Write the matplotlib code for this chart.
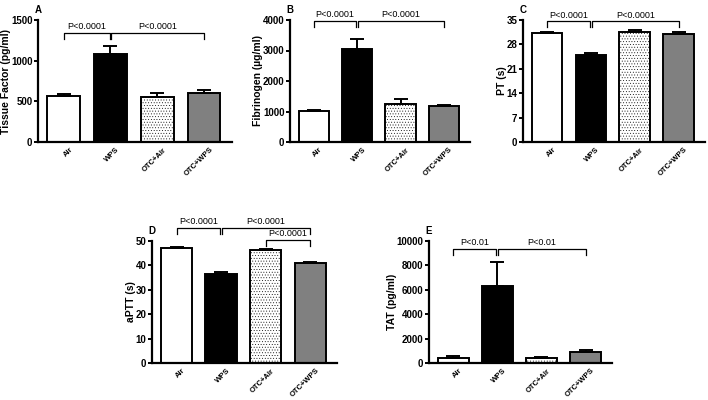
import matplotlib
matplotlib.use('agg')
import matplotlib.pyplot as plt
import numpy as np

plt.rcParams['font.family'] = ['Liberation Sans', 'DejaVu Sans']
plt.rcParams['font.weight'] = 'bold'
plt.rcParams['hatch.color'] = "#c0c0c0"
plt.rcParams['hatch.linewidth'] = 0.3

groups = ["Air", "WPS", "OTC+Air", "OTC+WPS"]

tf_mean = [560, 1080, 555, 605]
tf_err = [30, 100, 50, 30]

fib_mean = [1010, 3040, 1260, 1170]
fib_err = [50, 330, 160, 40]

pt_mean = [31.3, 24.9, 31.6, 31.1]
pt_err = [0.4, 0.5, 0.5, 0.4]

aptt_mean = [47.2, 36.5, 46.3, 41.0]
aptt_err = [0.5, 0.6, 0.6, 0.5]

tat_mean = [450, 6300, 450, 880]
tat_err = [100, 2000, 80, 220]

fills = ["white", "black", "white", "#808080"]
hatches = [None, None, "......", None]

W, H = 708, 400


def px_axes(fig, x0, x1, ytop, ybot):
    return fig.add_axes([x0 / W, 1 - ybot / H, (x1 - x0) / W, (ybot - ytop) / H])


def panel(ax, letter, means, errs, ylabel, ymax, yticks, brackets):
    x = np.arange(len(groups))
    for i in range(len(groups)):
        ax.bar(x[i], means[i], 0.7, color=fills[i], edgecolor="black",
               linewidth=1.4, hatch=hatches[i], zorder=2)
        ax.errorbar(x[i], means[i], yerr=[[0], [errs[i]]], fmt="none",
                    ecolor="black", elinewidth=1.4, capsize=5, capthick=1.4,
                    zorder=3)
    ax.set_xlim(-0.55, 3.6)
    ax.set_ylim(0, ymax)
    ax.set_yticks(yticks)
    ax.set_xticks(x + 0.12)
    ax.set_xticklabels(groups, rotation=45, ha="right", rotation_mode="anchor",
                       fontsize=5.5, fontweight="bold")
    ax.tick_params(axis="x", length=0, pad=3)
    ax.tick_params(axis="y", labelsize=7, width=1.4, length=3, pad=1)
    for lab in ax.get_yticklabels():
        lab.set_fontweight("bold")
    for s in ["top", "right"]:
        ax.spines[s].set_visible(False)
    for s in ["left", "bottom"]:
        ax.spines[s].set_linewidth(1.6)
    ax.set_ylabel(ylabel, fontsize=7.5, fontweight="bold", labelpad=0)
    ax.text(0, 1.04, letter, transform=ax.transAxes, fontsize=7,
            fontweight="bold", ha="center", va="bottom")
    for (a, b, y, text) in brackets:
        tip = ymax * 0.05
        ax.plot([a, a, b, b], [y - tip, y, y, y - tip], color="black",
                lw=0.9, clip_on=False)
        ax.text((a + b) / 2, y + ymax * 0.015, text, ha="center",
                va="bottom", fontsize=6.5, fontweight="normal")


fig = plt.figure(figsize=(7.08, 4.0), dpi=100)

axA = px_axes(fig, 38, 232, 20, 142)
panel(axA, "A", tf_mean, tf_err, "Tissue Factor (pg/ml)", 1500,
      [0, 500, 1000, 1500],
      [(0, 0.98, 1340, "P<0.0001"), (1.02, 3, 1340, "P<0.0001")])

axB = px_axes(fig, 290, 470, 20, 142)
panel(axB, "B", fib_mean, fib_err, "Fibrinogen (\u00b5g/ml)", 4000,
      [0, 1000, 2000, 3000, 4000],
      [(0, 0.98, 3960, "P<0.0001"), (1.02, 3, 3960, "P<0.0001")])

axC = px_axes(fig, 523, 705, 20, 142)
panel(axC, "C", pt_mean, pt_err, "PT (s)", 35,
      [0, 7, 14, 21, 28, 35],
      [(0, 0.98, 34.6, "P<0.0001"), (1.02, 3, 34.6, "P<0.0001")])

axD = px_axes(fig, 152, 337, 241, 363)
panel(axD, "D", aptt_mean, aptt_err, "aPTT (s)", 50,
      [0, 10, 20, 30, 40, 50],
      [(0, 0.98, 55.5, "P<0.0001"), (1.02, 3, 55.5, "P<0.0001"),
       (2, 3, 50.3, "P<0.0001")])

axE = px_axes(fig, 429, 612, 241, 363)
panel(axE, "E", tat_mean, tat_err, "TAT (pg/ml)", 10000,
      [0, 2000, 4000, 6000, 8000, 10000],
      [(0, 0.98, 9350, "P<0.01"), (1.02, 3, 9350, "P<0.01")])

fig.savefig("out.png", dpi=100)
